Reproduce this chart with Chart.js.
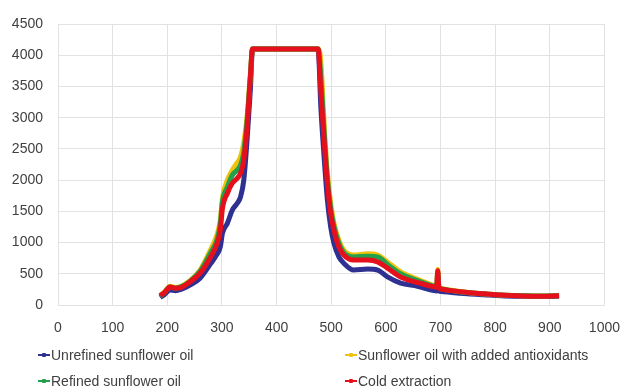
<!DOCTYPE html>
<html>
<head>
<meta charset="utf-8">
<script src="https://cdn.jsdelivr.net/npm/chart.js@4.4.0/dist/chart.umd.min.js"></script>
<style>
  html, body { margin: 0; padding: 0; background: #ffffff; }
  #wrap { position: relative; width: 620px; height: 389px; overflow: hidden; background: #fff; }
  #c { position: absolute; left: 0; top: 0; }
  .leg { position: absolute; height: 20px; line-height: 20px; color: #404040; white-space: nowrap; }
  .mk { position: absolute; top: 9px; width: 12px; height: 2px; }
  .mk i { position: absolute; left: 4px; top: -1px; width: 4px; height: 4px; border-radius: 1px; }
  .tx { position: absolute; top: 0; }
</style>
</head>
<body>
<div id="wrap">
  <canvas id="c" width="620" height="389"></canvas>
  <div id="legend"></div>
</div>
<script>
// ---- data ----
const waveX = [187, 195, 205, 215, 225, 240, 260, 280, 290, 297, 301, 310, 319, 328, 334, 340, 346, 352, 356, 400, 450, 476, 481, 487, 493, 499, 505, 514, 523, 541, 567, 585, 603, 627, 658, 688, 693, 695, 697, 702, 720, 750, 780, 811, 850, 880, 917];
const unrefined   = [120, 170, 240, 230, 250, 310, 430, 670, 800, 930, 1150, 1310, 1520, 1630, 1730, 2000, 2640, 3440, 4100, 4100, 4100, 4100, 3170, 2370, 1680, 1250, 990, 770, 670, 560, 575, 560, 450, 350, 300, 230, 225, 300, 225, 215, 200, 180, 165, 150, 140, 135, 140];
const antioxidant = [150, 210, 300, 280, 300, 380, 560, 900, 1100, 1360, 1720, 2000, 2160, 2280, 2370, 2600, 3010, 3700, 4100, 4100, 4100, 4100, 3900, 2900, 2110, 1630, 1310, 1040, 880, 800, 820, 800, 690, 530, 410, 310, 300, 570, 300, 265, 235, 200, 180, 160, 150, 145, 150];
const refined     = [140, 200, 290, 270, 290, 370, 540, 850, 1020, 1300, 1660, 1890, 2080, 2160, 2240, 2450, 2950, 3650, 4100, 4100, 4100, 4100, 3650, 2780, 2030, 1550, 1260, 990, 840, 770, 780, 770, 650, 500, 390, 300, 295, 530, 295, 258, 230, 200, 180, 160, 150, 145, 150];
const coldExtr    = [150, 200, 290, 270, 280, 360, 510, 780, 960, 1200, 1550, 1790, 1950, 2030, 2110, 2320, 2850, 3650, 4100, 4100, 4100, 4100, 3440, 2640, 1950, 1470, 1200, 930, 800, 720, 720, 690, 590, 450, 360, 290, 285, 550, 285, 252, 230, 200, 180, 160, 145, 140, 150];
const seriesNames = ["Unrefined sunflower oil", "Sunflower oil with added antioxidants", "Refined sunflower oil", "Cold extraction"];
const seriesColors = ["#2e3192", "#f0c20f", "#22a04b", "#e5101c"];
const xTicks = [0, 1000, 100];   // min, max, step
const yTicks = [0, 4500, 500];   // min, max, step

// ---- font detection ----
function hasFont(name) {
  const c = document.createElement('canvas').getContext('2d');
  const t = 'Unrefined sunflower oil 0123456789';
  c.font = '20px monospace';
  const a = c.measureText(t).width;
  c.font = '20px "' + name + '", monospace';
  return Math.abs(c.measureText(t).width - a) > 0.5;
}
const narrow = hasFont('Liberation Sans Narrow');
const legFont = narrow ? '17px "Liberation Sans Narrow", "Liberation Sans", Arial, sans-serif'
                       : '14px "Liberation Sans", Arial, sans-serif';

// ---- legend (HTML) ----
const legPos = [
  { left: 38, top: 345 }, { left: 345, top: 345 },
  { left: 38, top: 371 }, { left: 345, top: 371 }
];
const legEl = document.getElementById('legend');
seriesNames.forEach((n, i) => {
  const d = document.createElement('div');
  d.className = 'leg';
  d.style.left = legPos[i].left + 'px';
  d.style.top = legPos[i].top + 'px';
  d.style.font = legFont;
  d.style.lineHeight = '20px';
  d.innerHTML = '<span class="mk" style="left:0;background:' + seriesColors[i] + '"><i style="background:' + seriesColors[i] + '"></i></span>' +
                '<span class="tx" style="left:13px">' + n + '</span>';
  legEl.appendChild(d);
});

// ---- chart ----
const ys = [unrefined, antioxidant, refined, coldExtr];
const orders = [3, 2, 1, 0];
const datasets = ys.map((arr, i) => ({
  label: seriesNames[i],
  data: waveX.map((x, k) => ({ x: x, y: arr[k] })),
  borderColor: seriesColors[i],
  backgroundColor: seriesColors[i],
  borderWidth: 5,
  pointRadius: 0,
  fill: false,
  cubicInterpolationMode: 'monotone',
  order: orders[i]
}));

const gridCol = '#e2e2e2';
const yTickFont = { family: '"Liberation Sans", Arial, sans-serif', size: 14 };
const xTickFont = { family: '"Liberation Sans", Arial, sans-serif', size: 14, lineHeight: 3.3 };

new Chart(document.getElementById('c'), {
  type: 'line',
  data: { datasets: datasets },
  options: {
    responsive: false,
    animation: false,
    events: [],
    layout: { padding: { top: 24, right: 2, left: 0, bottom: 0 } },
    plugins: { legend: { display: false }, tooltip: { enabled: false } },
    scales: {
      x: {
        type: 'linear',
        min: xTicks[0], max: xTicks[1],
        ticks: { stepSize: xTicks[2], padding: 0, color: '#404040', font: xTickFont, maxRotation: 0,
                 callback: (v) => String(v) },
        grid: { color: gridCol, drawTicks: false, lineWidth: 1 },
        border: { color: gridCol },
        afterFit: (s) => { s.height = 84; }
      },
      y: {
        type: 'linear',
        min: yTicks[0], max: yTicks[1],
        ticks: { stepSize: yTicks[2], padding: 15, color: '#404040', font: yTickFont,
                 callback: (v) => String(v) },
        grid: { color: gridCol, drawTicks: false, lineWidth: 1 },
        border: { color: gridCol },
        afterFit: (s) => { s.width = 58; }
      }
    }
  }
});
</script>
</body>
</html>
